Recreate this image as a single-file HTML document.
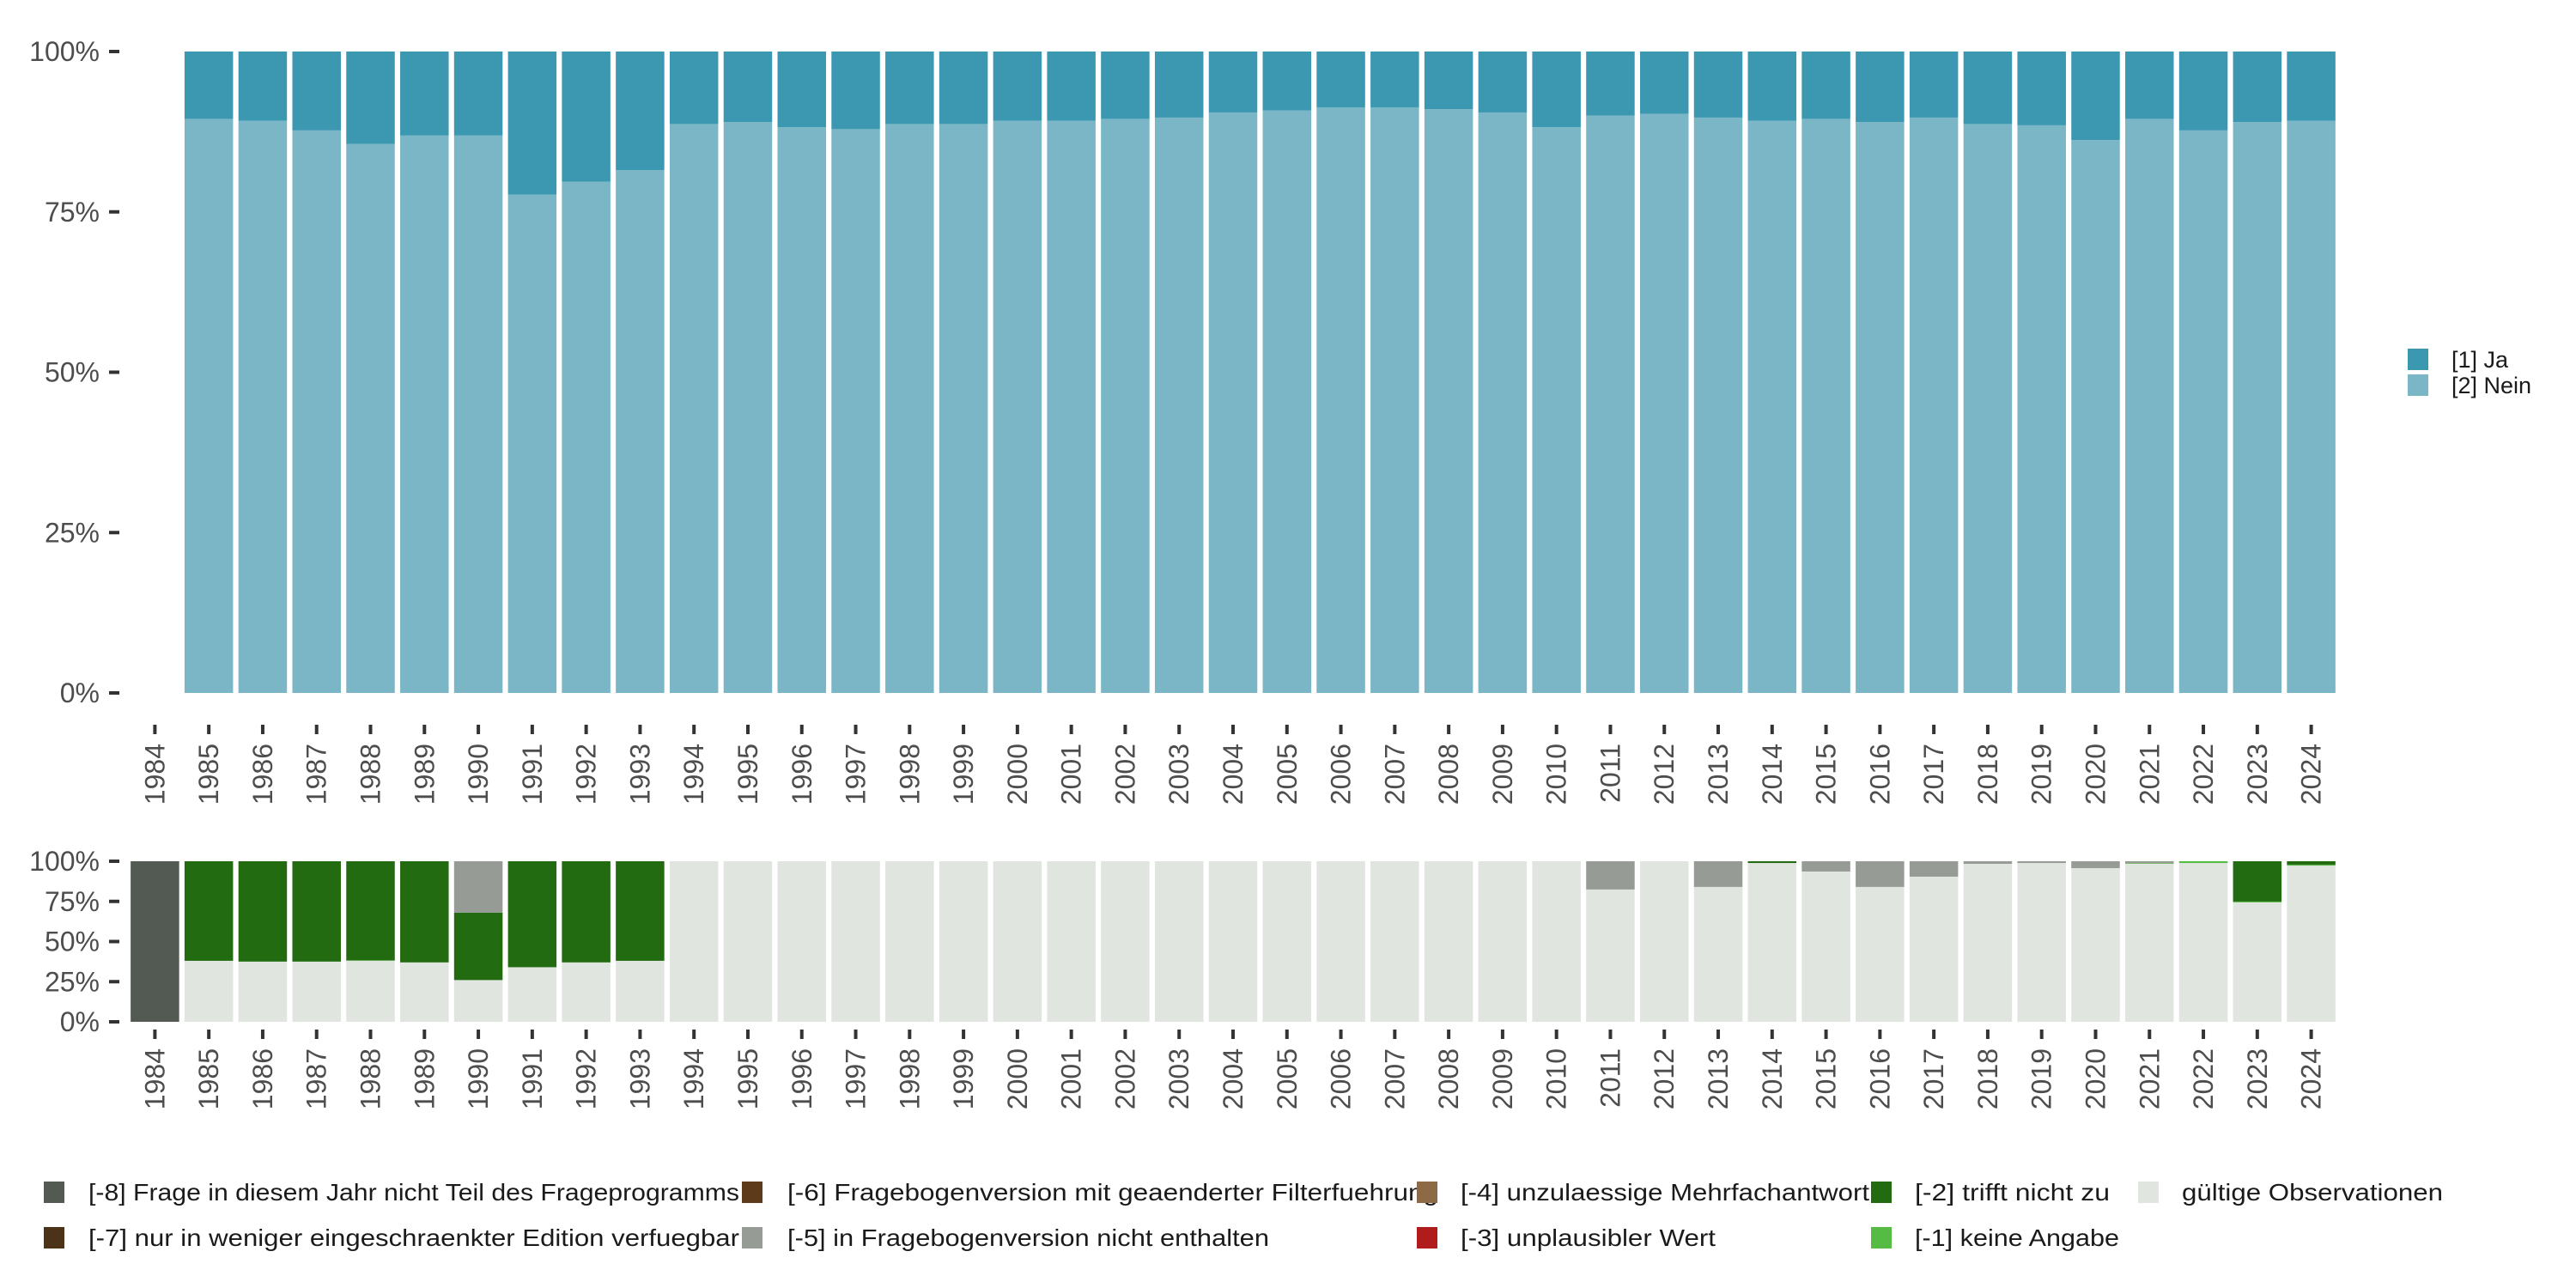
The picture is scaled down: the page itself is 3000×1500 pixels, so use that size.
<!DOCTYPE html>
<html><head><meta charset="utf-8"><style>
html,body{margin:0;padding:0;background:#fff;}
svg{display:block;font-family:"Liberation Sans",sans-serif;}
</style></head><body>
<svg id="chart" width="3000" height="1500" viewBox="0 0 3000 1500" xmlns="http://www.w3.org/2000/svg">
<g id="top"></g>
<g id="bottom"></g>
<g id="legends"></g>
</svg>
<script>
const years = [1984,1985,1986,1987,1988,1989,1990,1991,1992,1993,1994,1995,1996,1997,1998,1999,2000,2001,2002,2003,2004,2005,2006,2007,2008,2009,2010,2011,2012,2013,2014,2015,2016,2017,2018,2019,2020,2021,2022,2023,2024];
// top panel: share "Nein" (null = no data)
const neinShare = [null,89.5,89.2,87.7,85.6,86.9,86.9,77.7,79.7,81.5,88.7,89.0,88.2,87.9,88.7,88.7,89.2,89.2,89.5,89.7,90.5,90.8,91.3,91.3,91.0,90.5,88.2,90.0,90.3,89.7,89.2,89.5,89.0,89.7,88.7,88.5,86.2,89.5,87.7,89.0,89.2];
// bottom panel shares per category
const m8 = [100,0,0,0,0,0,0,0,0,0,0,0,0,0,0,0,0,0,0,0,0,0,0,0,0,0,0,0,0,0,0,0,0,0,0,0,0,0,0,0,0];
const m5 = [0,0,0,0,0,0,32,0,0,0,0,0,0,0,0,0,0,0,0,0,0,0,0,0,0,0,0,17.6,0,16,0,6.4,16,9.6,1.6,1.1,4.3,1.2,0,0,0];
const m2 = [0,62,62.5,62.5,61.7,63,42,66,63,62,0,0,0,0,0,0,0,0,0,0,0,0,0,0,0,0,0,0,0,0,1.1,0,0,0,0,0,0,0,0,25.1,2.1];
const m1 = [0,0,0,0,0.3,0,0,0,0,0,0,0,0,0,0,0,0,0,0,0,0,0,0,0,0,0,0,0,0,0,0,0,0,0,0,0,0,0.4,1.1,0.5,0.6];
const yTicks = [0,25,50,75,100];
const yTickLabels = ["0%","25%","50%","75%","100%"];

const NS="http://www.w3.org/2000/svg";
function mk(parent,tag,attrs){const e=document.createElementNS(NS,tag);for(const k in attrs)e.setAttribute(k,attrs[k]);parent.appendChild(e);return e;}
const x0=149, pitch=(2723-149)/41, bw=pitch*0.9;
function xLeft(i){return x0+i*pitch+(pitch-bw)/2;}
function xCenter(i){return x0+i*pitch+pitch/2;}

function axes(g,yTop,yBot,tickY,labY,prefix){
  const ys=v=>yBot-(v/100)*(yBot-yTop);
  yTicks.forEach((t,k)=>{
    const ln=mk(g,'line',{x1:127,x2:139,y1:ys(t),y2:ys(t),stroke:'#333','stroke-width':4});
    
    
    const tx=mk(g,'text',{x:116,y:ys(t)+11,'text-anchor':'end','font-size':32,fill:'#4d4d4d'});
    tx.textContent=yTickLabels[k];
    
    
  });
  years.forEach((yr,i)=>{
    const cx=xCenter(i);
    const ln=mk(g,'line',{x1:cx,x2:cx,y1:tickY,y2:tickY+11,stroke:'#333','stroke-width':4});
    
    
    const tx=mk(g,'text',{x:0,y:0,'text-anchor':'end','font-size':32,fill:'#4d4d4d',transform:`translate(${cx+11},${labY}) rotate(-90)`});
    tx.textContent=yr;
    
    
  });
  return ys;
}

// top panel
const gt=document.getElementById('top');
const ysT=axes(gt,60,807,844,866,'top');
years.forEach((yr,i)=>{
  const n=neinShare[i]; if(n===null)return;
  const r1=mk(gt,'rect',{x:xLeft(i),y:ysT(n),width:bw,height:ysT(0)-ysT(n),fill:'#7ab6c5'});
  
  
  const r2=mk(gt,'rect',{x:xLeft(i),y:ysT(100),width:bw,height:ysT(n)-ysT(100),fill:'#3c98b1'});
  
  
});

// bottom panel
const gb=document.getElementById('bottom');
const ysB=axes(gb,1003,1190,1199,1221,'bottom');
const cols={valid:'#e0e5e0',m1:'#55bb44',m2:'#226b11',m5:'#979b95',m8:'#535a53'};
years.forEach((yr,i)=>{
  const valid=100-m8[i]-m5[i]-m2[i]-m1[i];
  const segs=[['valid',valid],['m1',m1[i]],['m2',m2[i]],['m5',m5[i]],['m8',m8[i]]];
  let acc=0;
  segs.forEach(([k,v])=>{
    if(v<=0)return;
    const r=mk(gb,'rect',{x:xLeft(i),y:ysB(acc+v),width:bw,height:ysB(acc)-ysB(acc+v),fill:cols[k]});
    
    
    acc+=v;
  });
});

// legends
const gl=document.getElementById('legends');
const topLeg=[['[1] Ja','#3c98b1',406],['[2] Nein','#7ab6c5',436]];
topLeg.forEach(([t,c,y])=>{
  const r=mk(gl,'rect',{x:2804,y:y,width:24,height:25,fill:c});
  
  
  const tx=mk(gl,'text',{x:2855,y:y+22,'font-size':27,fill:'#1a1a1a'});
  tx.textContent=t;
  
  
});
const botLeg=[
 ['[-8] Frage in diesem Jahr nicht Teil des Frageprogramms','#535a53',51,103,1388,758],
 ['[-7] nur in weniger eingeschraenkter Edition verfuegbar','#4a3319',51,103,1441,758],
 ['[-6] Fragebogenversion mit geaenderter Filterfuehrung','#5c3a1a',864,917,1388,758],
 ['[-5] in Fragebogenversion nicht enthalten','#979b95',864,917,1441,561],
 ['[-4] unzulaessige Mehrfachantwort','#8b6a45',1650,1701,1388,476],
 ['[-3] unplausibler Wert','#b01c1c',1650,1701,1441,297],
 ['[-2] trifft nicht zu','#226b11',2179,2230,1388,227],
 ['[-1] keine Angabe','#55bb44',2179,2230,1441,238],
 ['gültige Observationen','#e0e5e0',2490,2541,1388,304]
];
botLeg.forEach(([t,c,sx,tx0,cy,w])=>{
  const r=mk(gl,'rect',{x:sx,y:cy-12,width:24,height:25,fill:c});
  
  
  const tx=mk(gl,'text',{x:tx0,y:cy+10,'font-size':28,fill:'#1a1a1a',textLength:w,lengthAdjust:'spacingAndGlyphs'});
  tx.textContent=t;
  
  
});
</script>
</body></html>
